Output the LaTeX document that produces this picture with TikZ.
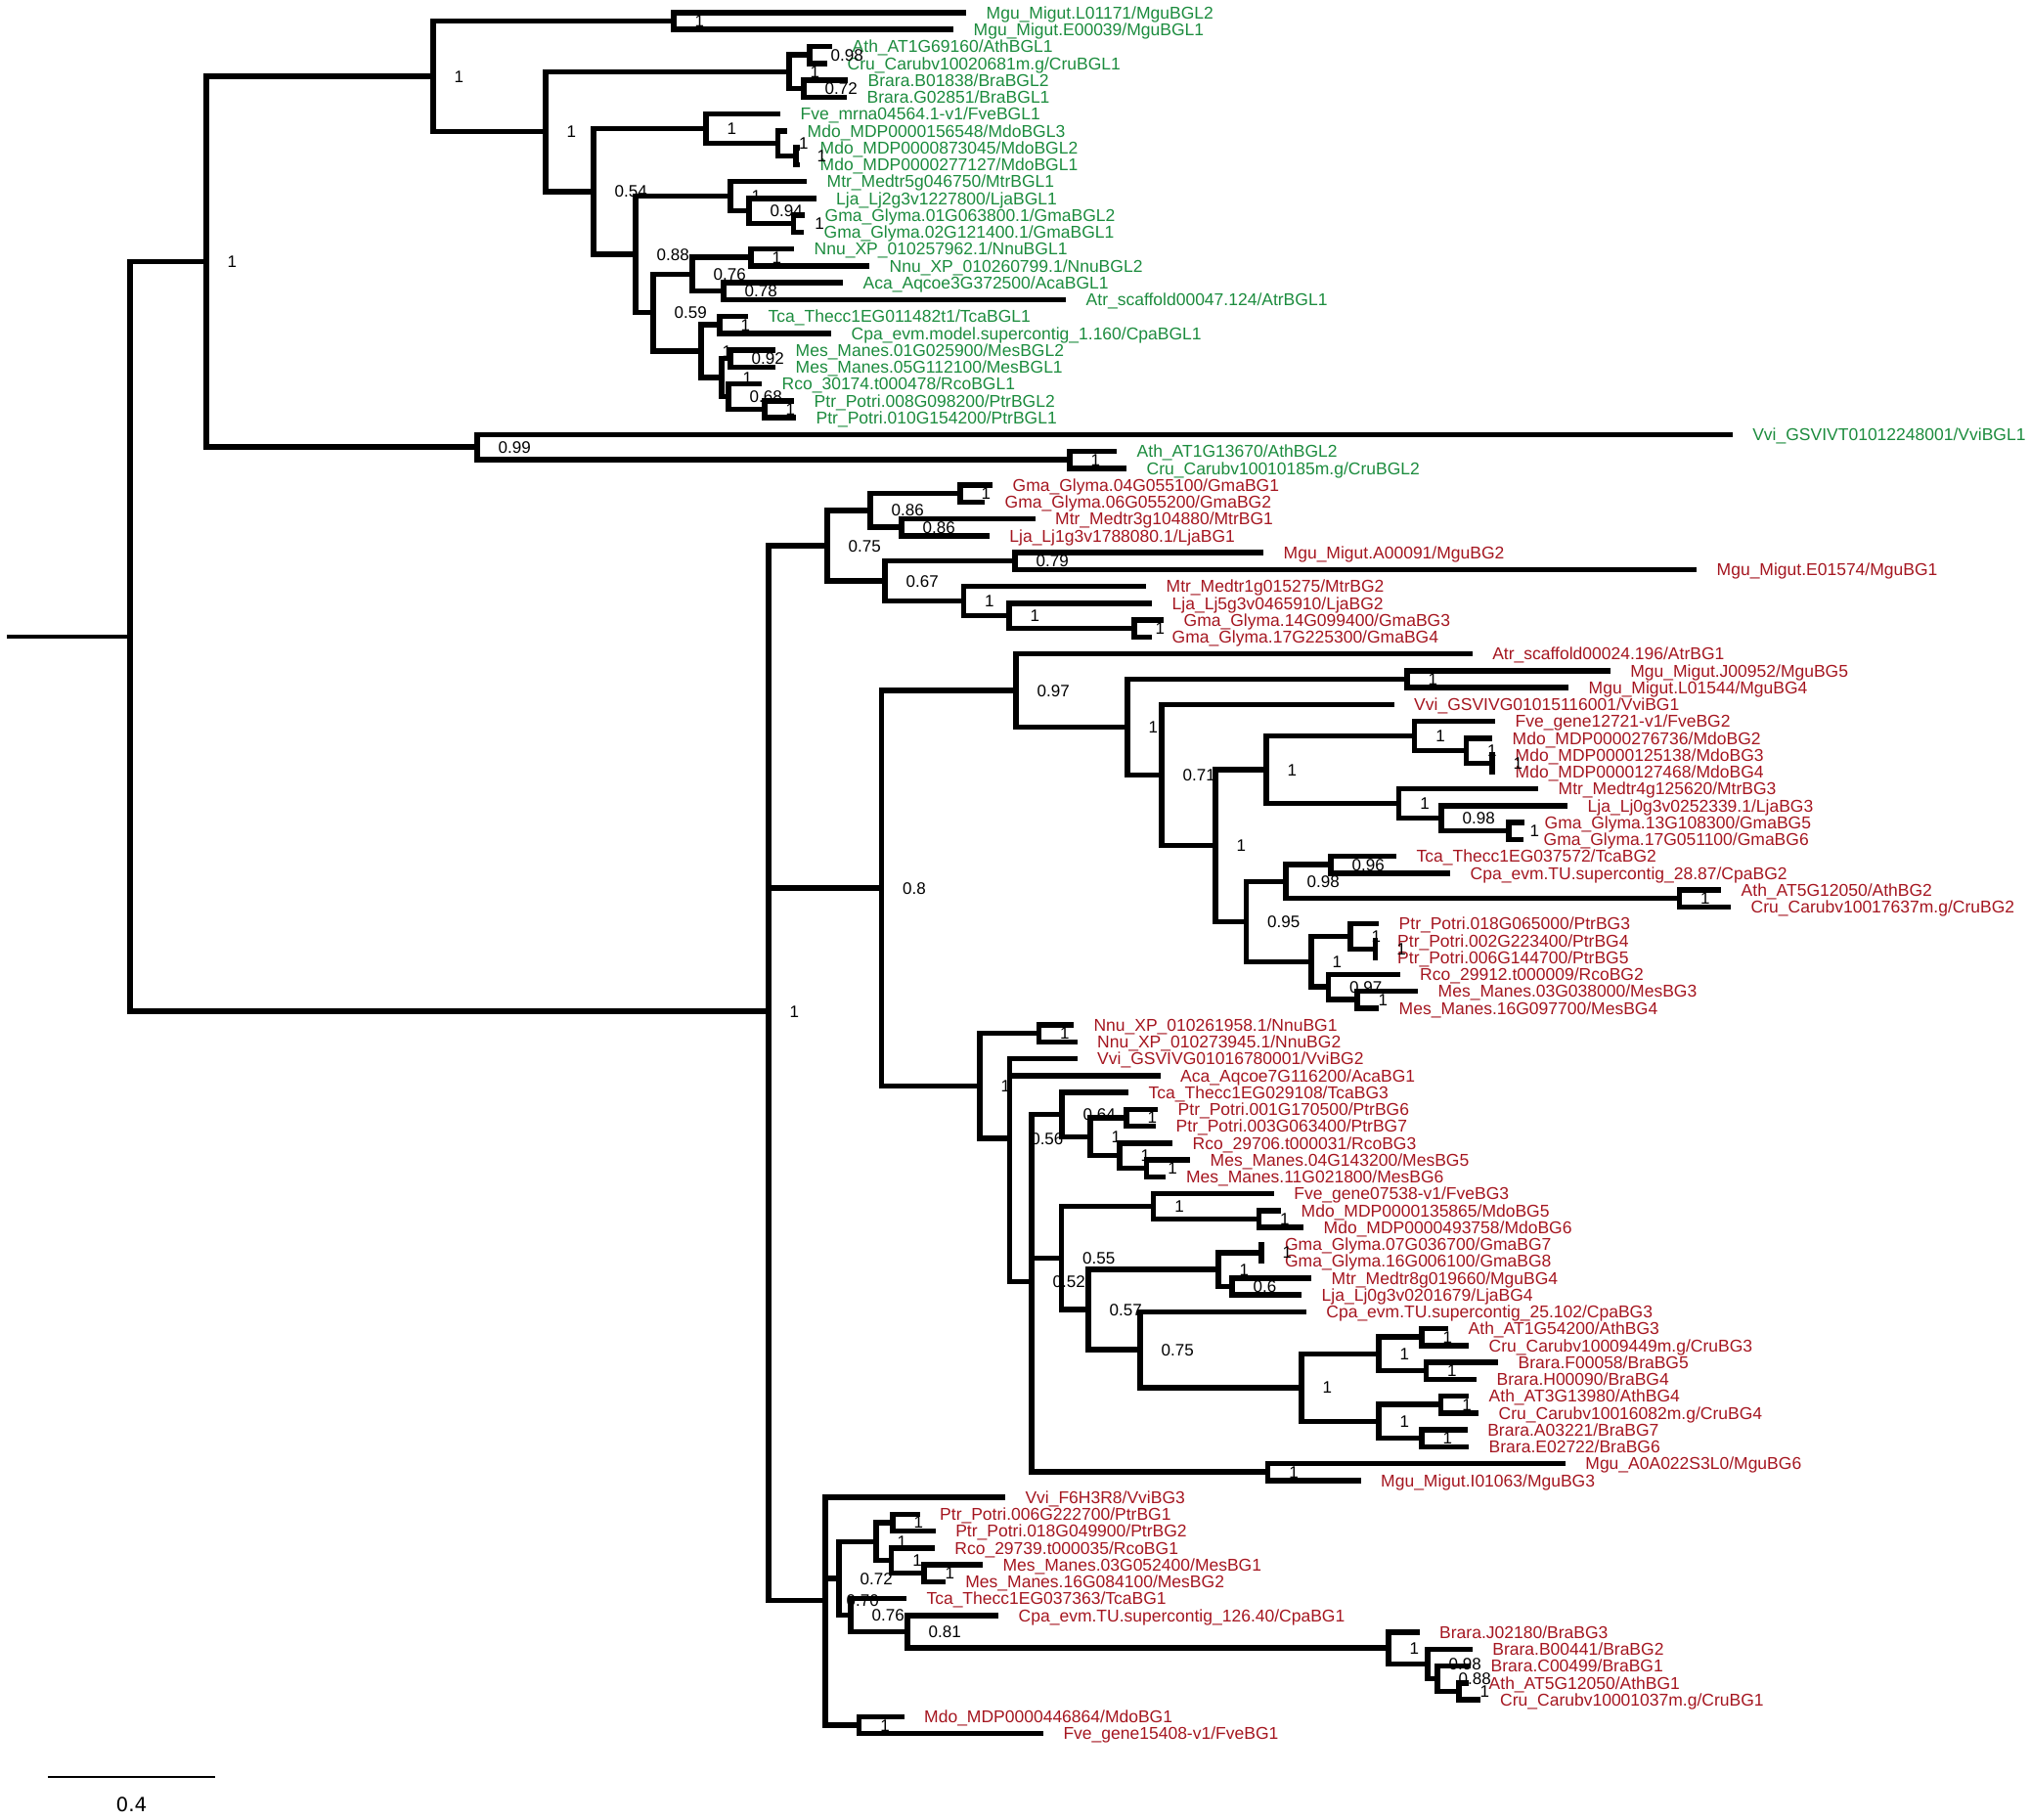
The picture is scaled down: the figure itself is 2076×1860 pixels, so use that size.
\documentclass[tikz,border=0pt]{standalone}
\usepackage{fontspec}
\setmainfont{Liberation Sans}
\newfontfamily\sbfont{DejaVu Sans}
\usetikzlibrary{calc}
\definecolor{lgreen}{RGB}{28,140,62}
\definecolor{lred}{RGB}{165,22,32}
\tikzset{
  br/.style={line width=5.5pt, line cap=butt, line join=miter},
  stem/.style={line width=4pt, line cap=butt},
  lab/.style={anchor=west, inner sep=0pt, font=\fontsize{17.5}{17.5}\selectfont, text height=12.5pt, text depth=0pt},
  sup/.style={anchor=west, inner sep=0pt, font=\fontsize{17}{17}\selectfont, text height=12.2pt, text depth=0pt, text=black}
}
\newcommand\tleaf[3]{\coordinate (L#1) at (#2,{13+(#1-1)*17.25});
  \node[lab] (T#1) at ([xshift=20.5pt]L#1) {#3};}
\newcommand\tnode[5]{\path let \p1=(#3),\p2=(#4) in coordinate (#1) at (#2pt,{(\y1+\y2)/2});
  \node[sup] (S#1) at ([xshift=21.5pt]#1) {#5};}
\newcommand\tnodeiii[6]{\path let \p1=(#3),\p2=(#4),\p3=(#5) in coordinate (#1) at (#2pt,{(\y1+\y2+\y3)/3});
  \node[sup] (S#1) at ([xshift=21.5pt]#1) {#6};}
\newcommand\tedge[2]{\foreach \kid in {#2}{\draw[br] (#1) |- (\kid);}}
\begin{document}
\begin{tikzpicture}[x=1pt,y=-1pt]
\useasboundingbox[fill=white] (0,0) rectangle (2076,1860);
% ---------- leaves ----------
\begin{scope}[lab/.append style={text=lgreen}]
\tleaf{1}{988}{Mgu\_Migut.L01171/MguBGL2}
\tleaf{2}{975}{Mgu\_Migut.E00039/MguBGL1}
\tleaf{3}{851}{Ath\_AT1G69160/AthBGL1}
\tleaf{4}{846}{Cru\_Carubv10020681m.g/CruBGL1}
\tleaf{5}{867}{Brara.B01838/BraBGL2}
\tleaf{6}{866}{Brara.G02851/BraBGL1}
\tleaf{7}{798}{Fve\_mrna04564.1-v1/FveBGL1}
\tleaf{8}{805}{Mdo\_MDP0000156548/MdoBGL3}
\tleaf{9}{818}{Mdo\_MDP0000873045/MdoBGL2}
\tleaf{10}{818}{Mdo\_MDP0000277127/MdoBGL1}
\tleaf{11}{825}{Mtr\_Medtr5g046750/MtrBGL1}
\tleaf{12}{834.5}{Lja\_Lj2g3v1227800/LjaBGL1}
\tleaf{13}{823}{Gma\_Glyma.01G063800.1/GmaBGL2}
\tleaf{14}{822}{Gma\_Glyma.02G121400.1/GmaBGL1}
\tleaf{15}{812}{Nnu\_XP\_010257962.1/NnuBGL1}
\tleaf{16}{889}{Nnu\_XP\_010260799.1/NnuBGL2}
\tleaf{17}{862}{Aca\_Aqcoe3G372500/AcaBGL1}
\tleaf{18}{1090}{Atr\_scaffold00047.124/AtrBGL1}
\tleaf{19}{765}{Tca\_Thecc1EG011482t1/TcaBGL1}
\tleaf{20}{850}{Cpa\_evm.model.supercontig\_1.160/CpaBGL1}
\tleaf{21}{793}{Mes\_Manes.01G025900/MesBGL2}
\tleaf{22}{793}{Mes\_Manes.05G112100/MesBGL1}
\tleaf{23}{779}{Rco\_30174.t000478/RcoBGL1}
\tleaf{24}{812}{Ptr\_Potri.008G098200/PtrBGL2}
\tleaf{25}{814}{Ptr\_Potri.010G154200/PtrBGL1}
\tleaf{26}{1771.6}{Vvi\_GSVIVT01012248001/VviBGL1}
\tleaf{27}{1142}{Ath\_AT1G13670/AthBGL2}
\tleaf{28}{1152}{Cru\_Carubv10010185m.g/CruBGL2}
\end{scope}
\begin{scope}[lab/.append style={text=lred}]
\tleaf{29}{1015}{Gma\_Glyma.04G055100/GmaBG1}
\tleaf{30}{1007}{Gma\_Glyma.06G055200/GmaBG2}
\tleaf{31}{1058.5}{Mtr\_Medtr3g104880/MtrBG1}
\tleaf{32}{1011.7}{Lja\_Lj1g3v1788080.1/LjaBG1}
\tleaf{33}{1292}{Mgu\_Migut.A00091/MguBG2}
\tleaf{34}{1735}{Mgu\_Migut.E01574/MguBG1}
\tleaf{35}{1172}{Mtr\_Medtr1g015275/MtrBG2}
\tleaf{36}{1178}{Lja\_Lj5g3v0465910/LjaBG2}
\tleaf{37}{1190}{Gma\_Glyma.14G099400/GmaBG3}
\tleaf{38}{1178}{Gma\_Glyma.17G225300/GmaBG4}
\tleaf{39}{1505.6}{Atr\_scaffold00024.196/AtrBG1}
\tleaf{40}{1646.6}{Mgu\_Migut.J00952/MguBG5}
\tleaf{41}{1604}{Mgu\_Migut.L01544/MguBG4}
\tleaf{42}{1425.5}{Vvi\_GSVIVG01015116001/VviBG1}
\tleaf{43}{1529}{Fve\_gene12721-v1/FveBG2}
\tleaf{44}{1526}{Mdo\_MDP0000276736/MdoBG2}
\tleaf{45}{1529}{Mdo\_MDP0000125138/MdoBG3}
\tleaf{46}{1529}{Mdo\_MDP0000127468/MdoBG4}
\tleaf{47}{1573}{Mtr\_Medtr4g125620/MtrBG3}
\tleaf{48}{1603}{Lja\_Lj0g3v0252339.1/LjaBG3}
\tleaf{49}{1559}{Gma\_Glyma.13G108300/GmaBG5}
\tleaf{50}{1558}{Gma\_Glyma.17G051100/GmaBG6}
\tleaf{51}{1428}{Tca\_Thecc1EG037572/TcaBG2}
\tleaf{52}{1483}{Cpa\_evm.TU.supercontig\_28.87/CpaBG2}
\tleaf{53}{1760}{Ath\_AT5G12050/AthBG2}
\tleaf{54}{1770}{Cru\_Carubv10017637m.g/CruBG2}
\tleaf{55}{1410}{Ptr\_Potri.018G065000/PtrBG3}
\tleaf{56}{1408.5}{Ptr\_Potri.002G223400/PtrBG4}
\tleaf{57}{1408.5}{Ptr\_Potri.006G144700/PtrBG5}
\tleaf{58}{1431.5}{Rco\_29912.t000009/RcoBG2}
\tleaf{59}{1450}{Mes\_Manes.03G038000/MesBG3}
\tleaf{60}{1410}{Mes\_Manes.16G097700/MesBG4}
\tleaf{61}{1097.8}{Nnu\_XP\_010261958.1/NnuBG1}
\tleaf{62}{1101.5}{Nnu\_XP\_010273945.1/NnuBG2}
\tleaf{63}{1101.5}{Vvi\_GSVIVG01016780001/VviBG2}
\tleaf{64}{1186.5}{Aca\_Aqcoe7G116200/AcaBG1}
\tleaf{65}{1154}{Tca\_Thecc1EG029108/TcaBG3}
\tleaf{66}{1184}{Ptr\_Potri.001G170500/PtrBG6}
\tleaf{67}{1182}{Ptr\_Potri.003G063400/PtrBG7}
\tleaf{68}{1199}{Rco\_29706.t000031/RcoBG3}
\tleaf{69}{1217}{Mes\_Manes.04G143200/MesBG5}
\tleaf{70}{1192.4}{Mes\_Manes.11G021800/MesBG6}
\tleaf{71}{1302.6}{Fve\_gene07538-v1/FveBG3}
\tleaf{72}{1310}{Mdo\_MDP0000135865/MdoBG5}
\tleaf{73}{1333}{Mdo\_MDP0000493758/MdoBG6}
\tleaf{74}{1293.4}{Gma\_Glyma.07G036700/GmaBG7}
\tleaf{75}{1293.4}{Gma\_Glyma.16G006100/GmaBG8}
\tleaf{76}{1341}{Mtr\_Medtr8g019660/MguBG4}
\tleaf{77}{1331}{Lja\_Lj0g3v0201679/LjaBG4}
\tleaf{78}{1335.7}{Cpa\_evm.TU.supercontig\_25.102/CpaBG3}
\tleaf{79}{1481}{Ath\_AT1G54200/AthBG3}
\tleaf{80}{1502}{Cru\_Carubv10009449m.g/CruBG3}
\tleaf{81}{1532}{Brara.F00058/BraBG5}
\tleaf{82}{1510}{Brara.H00090/BraBG4}
\tleaf{83}{1502}{Ath\_AT3G13980/AthBG4}
\tleaf{84}{1512}{Cru\_Carubv10016082m.g/CruBG4}
\tleaf{85}{1500.6}{Brara.A03221/BraBG7}
\tleaf{86}{1502}{Brara.E02722/BraBG6}
\tleaf{87}{1600.7}{Mgu\_A0A022S3L0/MguBG6}
\tleaf{88}{1391.5}{Mgu\_Migut.I01063/MguBG3}
\tleaf{89}{1027.8}{Vvi\_F6H3R8/VviBG3}
\tleaf{90}{940.5}{Ptr\_Potri.006G222700/PtrBG1}
\tleaf{91}{956.6}{Ptr\_Potri.018G049900/PtrBG2}
\tleaf{92}{955.7}{Rco\_29739.t000035/RcoBG1}
\tleaf{93}{1004.8}{Mes\_Manes.03G052400/MesBG1}
\tleaf{94}{966.7}{Mes\_Manes.16G084100/MesBG2}
\tleaf{95}{926.8}{Tca\_Thecc1EG037363/TcaBG1}
\tleaf{96}{1021}{Cpa\_evm.TU.supercontig\_126.40/CpaBG1}
\tleaf{97}{1451.5}{Brara.J02180/BraBG3}
\tleaf{98}{1505.7}{Brara.B00441/BraBG2}
\tleaf{99}{1504}{Brara.C00499/BraBG1}
\tleaf{100}{1502}{Ath\_AT5G12050/AthBG1}
\tleaf{101}{1513.5}{Cru\_Carubv10001037m.g/CruBG1}
\tleaf{102}{924.5}{Mdo\_MDP0000446864/MdoBG1}
\tleaf{103}{1066.8}{Fve\_gene15408-v1/FveBG1}
\end{scope}
% ---------- internal nodes (green part) ----------
\tnode{A1}{689}{L1}{L2}{1}
\tnode{AC}{828}{L3}{L4}{0.98}
\tnode{BR}{822}{L5}{L6}{0.72}
\tnode{AB}{807}{AC}{BR}{1}
\tnode{MDb}{814}{L9}{L10}{1}
\tnode{MDa}{795.5}{L8}{MDb}{1}
\tnode{FMa}{722}{L7}{MDa}{1}
\tnode{GMa}{811.6}{L13}{L14}{1}
\tnode{LGa}{766}{L12}{GMa}{0.94}
\tnode{FBa}{747}{L11}{LGa}{1}
\tnode{NNa}{768}{L15}{L16}{1}
\tnode{AAa}{740}{L17}{L18}{0.78}
\tnode{Z}{708}{NNa}{AAa}{0.76}
\tnode{TCa}{736}{L19}{L20}{1}
\tnode{MEa}{747}{L21}{L22}{0.92}
\tnode{PTa}{782}{L24}{L25}{1}
\tnode{RPa}{745}{L23}{PTa}{0.68}
\tnode{V}{738}{MEa}{RPa}{1}
\tnode{W}{717}{TCa}{V}{1}
\tnode{Y}{668}{Z}{W}{0.59}
\tnode{X}{650}{FBa}{Y}{0.88}
\tnode{Gc}{607}{FMa}{X}{0.54}
\tnode{Gb}{558}{AB}{Gc}{1}
\tnode{Ga}{443}{A1}{Gb}{1}
\tnode{ACb}{1094}{L27}{L28}{1}
\tnode{Gd}{488}{L26}{ACb}{0.99}
\tnode{G}{211}{Ga}{Gd}{1}
% ---------- internal nodes (red part) ----------
\tnode{GGa}{982}{L29}{L30}{1}
\tnode{MLa}{922}{L31}{L32}{0.86}
\tnode{BGaa}{890}{GGa}{MLa}{0.86}
\tnode{MGa}{1038}{L33}{L34}{0.79}
\tnode{GGb}{1160}{L37}{L38}{1}
\tnode{LGb}{1032}{L36}{GGb}{1}
\tnode{MLG}{985.5}{L35}{LGb}{1}
\tnode{BGab}{905}{MGa}{MLG}{0.67}
\tnode{BGa}{846}{BGaa}{BGab}{0.75}
\tnode{MGb}{1439}{L40}{L41}{1}
\tnode{MDd}{1526}{L45}{L46}{1}
\tnode{MDc}{1499.5}{L44}{MDd}{1}
\tnode{FMb}{1446.6}{L43}{MDc}{1}
\tnode{GGc}{1543}{L49}{L50}{1}
\tnode{LGc}{1474}{L48}{GGc}{0.98}
\tnode{FBb}{1430.6}{L47}{LGc}{1}
\tnode{RF}{1295}{FMb}{FBb}{1}
\tnode{TCb}{1361}{L51}{L52}{0.96}
\tnode{ACc}{1717.5}{L53}{L54}{1}
\tnode{TCA}{1315}{TCb}{ACc}{0.98}
\tnode{PTc}{1406.7}{L56}{L57}{1}
\tnode{PTb}{1381}{L55}{PTc}{1}
\tnode{MEb}{1388}{L59}{L60}{1}
\tnode{RMa}{1358.5}{L58}{MEb}{0.97}
\tnode{PRMa}{1341}{PTb}{RMa}{1}
\tnode{BGbe}{1274.5}{TCA}{PRMa}{0.95}
\tnode{BGbd}{1243}{RF}{BGbe}{1}
\tnode{BGbc}{1188}{L42}{BGbd}{0.71}
\tnode{BGbb}{1153}{MGb}{BGbc}{1}
\tnode{BGba}{1039}{L39}{BGbb}{0.97}
\tnode{NNb}{1062.5}{L61}{L62}{1}
\tnode{PTd}{1152}{L66}{L67}{1}
\tnode{MEc}{1172.7}{L69}{L70}{1}
\tnode{RMb}{1145}{L68}{MEc}{1}
\tnode{PRMb}{1115}{PTd}{RMb}{1}
\tnode{TPRM}{1086}{L65}{PRMb}{0.64}
\tnode{MDe}{1287.5}{L72}{L73}{1}
\tnode{FMc}{1179.6}{L71}{MDe}{1}
\tnode{GGd}{1290}{L74}{L75}{1}
\tnode{MLb}{1260}{L76}{L77}{0.6}
\tnode{GML}{1246}{GGd}{MLb}{1}
\tnode{ACd}{1453.8}{L79}{L80}{1}
\tnode{BPa}{1458.4}{L81}{L82}{1}
\tnode{ABa}{1410}{ACd}{BPa}{1}
\tnode{ACe}{1473.6}{L83}{L84}{1}
\tnode{BPb}{1453.8}{L85}{L86}{1}
\tnode{ABb}{1410}{ACe}{BPb}{1}
\tnode{BRC}{1331}{ABa}{ABb}{1}
\tnode{NS}{1166}{L78}{BRC}{0.75}
\tnode{NN}{1113}{GML}{NS}{0.57}
\tnode{BGbf}{1085.5}{FMc}{NN}{0.55}
\tnode{MGc}{1296.6}{L87}{L88}{1}
\tnodeiii{BGbg}{1055}{TPRM}{BGbf}{MGc}{0.52}
\tnodeiii{BGbh}{1032.6}{L63}{L64}{BGbg}{0.56}
\tnode{BGbi}{1002}{NNb}{BGbh}{1}
\tnode{BGb}{901.5}{BGba}{BGbi}{0.8}
\tnode{PTe}{913}{L90}{L91}{1}
\tnode{MEd}{945}{L93}{L94}{1}
\tnode{RMc}{911.6}{L92}{MEd}{1}
\tnode{PRMc}{896}{PTe}{RMc}{1}
\tnode{ACR}{1492}{L100}{L101}{1}
\tnode{BBc}{1470}{L99}{ACR}{0.88}
\tnode{BBb}{1460}{L98}{BBc}{0.98}
\tnode{BBa}{1420}{L97}{BBb}{1}
\tnode{CB}{928}{L96}{BBa}{0.81}
\tnode{TCc}{870}{L95}{CB}{0.76}
\tnode{Ca}{858}{PRMc}{TCc}{0.72}
\tnode{MF}{878.6}{L102}{L103}{1}
\tnodeiii{BGc}{844}{L89}{Ca}{MF}{0.70}
\tnodeiii{BG}{786}{BGa}{BGb}{BGc}{1}
\path let \p1=(G),\p2=(BG) in coordinate (R) at (133pt,{(\y1+\y2)/2});
\path let \p1=(R) in coordinate (R0) at (7pt,\y1);
% ---------- branches ----------
\draw[stem] (R0) -- (R);
\tedge{R}{G,BG}
\tedge{G}{Ga,Gd}
\tedge{Ga}{A1,Gb}
\tedge{A1}{L1,L2}
\tedge{Gb}{AB,Gc}
\tedge{AB}{AC,BR}
\tedge{AC}{L3,L4}
\tedge{BR}{L5,L6}
\tedge{Gc}{FMa,X}
\tedge{FMa}{L7,MDa}
\tedge{MDa}{L8,MDb}
\tedge{MDb}{L9,L10}
\tedge{X}{FBa,Y}
\tedge{FBa}{L11,LGa}
\tedge{LGa}{L12,GMa}
\tedge{GMa}{L13,L14}
\tedge{Y}{Z,W}
\tedge{Z}{NNa,AAa}
\tedge{NNa}{L15,L16}
\tedge{AAa}{L17,L18}
\tedge{W}{TCa,V}
\tedge{TCa}{L19,L20}
\tedge{V}{MEa,RPa}
\tedge{MEa}{L21,L22}
\tedge{RPa}{L23,PTa}
\tedge{PTa}{L24,L25}
\tedge{Gd}{L26,ACb}
\tedge{ACb}{L27,L28}
\tedge{BG}{BGa,BGb,BGc}
\tedge{BGa}{BGaa,BGab}
\tedge{BGaa}{GGa,MLa}
\tedge{GGa}{L29,L30}
\tedge{MLa}{L31,L32}
\tedge{BGab}{MGa,MLG}
\tedge{MGa}{L33,L34}
\tedge{MLG}{L35,LGb}
\tedge{LGb}{L36,GGb}
\tedge{GGb}{L37,L38}
\tedge{BGb}{BGba,BGbi}
\tedge{BGba}{L39,BGbb}
\tedge{BGbb}{MGb,BGbc}
\tedge{MGb}{L40,L41}
\tedge{BGbc}{L42,BGbd}
\tedge{BGbd}{RF,BGbe}
\tedge{RF}{FMb,FBb}
\tedge{FMb}{L43,MDc}
\tedge{MDc}{L44,MDd}
\tedge{MDd}{L45,L46}
\tedge{FBb}{L47,LGc}
\tedge{LGc}{L48,GGc}
\tedge{GGc}{L49,L50}
\tedge{BGbe}{TCA,PRMa}
\tedge{TCA}{TCb,ACc}
\tedge{TCb}{L51,L52}
\tedge{ACc}{L53,L54}
\tedge{PRMa}{PTb,RMa}
\tedge{PTb}{L55,PTc}
\tedge{PTc}{L56,L57}
\tedge{RMa}{L58,MEb}
\tedge{MEb}{L59,L60}
\tedge{BGbi}{NNb,BGbh}
\tedge{NNb}{L61,L62}
\tedge{BGbh}{L63,L64,BGbg}
\tedge{BGbg}{TPRM,BGbf,MGc}
\tedge{TPRM}{L65,PRMb}
\tedge{PRMb}{PTd,RMb}
\tedge{PTd}{L66,L67}
\tedge{RMb}{L68,MEc}
\tedge{MEc}{L69,L70}
\tedge{BGbf}{FMc,NN}
\tedge{FMc}{L71,MDe}
\tedge{MDe}{L72,L73}
\tedge{NN}{GML,NS}
\tedge{GML}{GGd,MLb}
\tedge{GGd}{L74,L75}
\tedge{MLb}{L76,L77}
\tedge{NS}{L78,BRC}
\tedge{BRC}{ABa,ABb}
\tedge{ABa}{ACd,BPa}
\tedge{ACd}{L79,L80}
\tedge{BPa}{L81,L82}
\tedge{ABb}{ACe,BPb}
\tedge{ACe}{L83,L84}
\tedge{BPb}{L85,L86}
\tedge{MGc}{L87,L88}
\tedge{BGc}{L89,Ca,MF}
\tedge{Ca}{PRMc,TCc}
\tedge{PRMc}{PTe,RMc}
\tedge{PTe}{L90,L91}
\tedge{RMc}{L92,MEd}
\tedge{MEd}{L93,L94}
\tedge{TCc}{L95,CB}
\tedge{CB}{L96,BBa}
\tedge{BBa}{L97,BBb}
\tedge{BBb}{L98,BBc}
\tedge{BBc}{L99,ACR}
\tedge{ACR}{L100,L101}
\tedge{MF}{L102,L103}
% ---------- scale bar ----------
\coordinate (SBa) at (49,1817);
\coordinate (SBb) at (220,1817);
\draw[line width=2pt] (SBa) -- (SBb);
\node[inner sep=0pt, font=\sbfont\fontsize{20}{20}\selectfont] (SBt) at ($(SBa)!0.5!(SBb)+(0,28)$) {0.4};
\end{tikzpicture}
\end{document}
